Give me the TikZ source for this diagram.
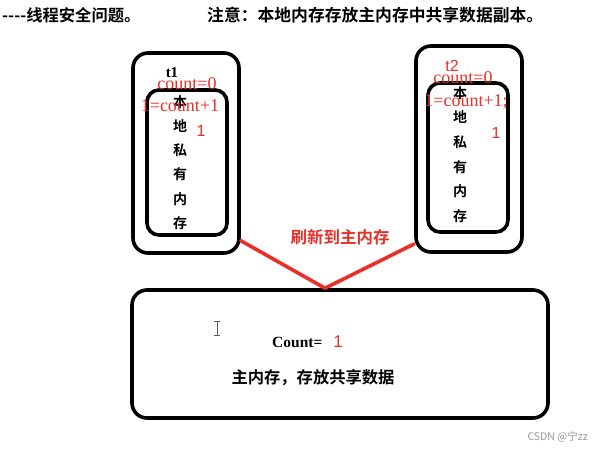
\documentclass[tikz,border=0pt]{standalone}
\usepackage{fontspec}
\usepackage{xcolor}
\usetikzlibrary{calc}
\setmainfont{Liberation Serif}
\setsansfont{Liberation Sans}
\newfontfamily\cjk{Noto Sans CJK SC}[BoldFont={Noto Sans CJK SC Bold}]
\definecolor{memred}{RGB}{232,48,40}
\definecolor{markgray}{RGB}{150,150,150}
\tikzset{
  membox/.style={rectangle, rounded corners=#1, draw=black, line width=3.6pt,
                 inner sep=0pt},
  cjktext/.style={font=\cjk\bfseries\fontsize{#1}{#1}\selectfont, inner sep=0pt},
  redtext/.style={text=memred, font=\fontsize{18}{18}\selectfont, inner sep=0pt},
  redval/.style={text=memred, font=\sffamily\fontsize{#1}{#1}\selectfont, inner sep=0pt},
  flush/.style={memred, line width=3.6pt, line cap=round},
}

\begin{document}
\begin{tikzpicture}[x=1pt, y=-1pt]
        \useasboundingbox (0,0) rectangle (603,451);

        % Title line
        \node[cjktext=16.3, anchor=west] (title) at (2,15) {----线程安全问题。};
        \node[cjktext=16.8, anchor=west] (note) at (207,15) {注意：本地内存存放主内存中共享数据副本。};

        % Thread t1
        \node[membox=15pt, minimum width=106pt, minimum height=200pt] (t1out) at (186,153) {};
        \node[membox=12pt, minimum width=80pt, minimum height=145pt] (t1in) at (187,162.5) {};
        \node[cjktext=14, align=center, font=\cjk\bfseries\fontsize{14}{24.2}\selectfont]
              (t1mem) at (180,162.5) {本\\地\\私\\有\\内\\存};
        \node[inner sep=0pt, font=\bfseries\fontsize{15}{15}\selectfont] (t1name) at (172,73) {t1};
        \node[redtext] (t1read) at (187,84) {count=0};
        \node[redtext] (t1add) at (180,106) {1=count+1};
        \node[redval=16] (t1val) at (201,131) {1};

        % Thread t2
        \node[membox=15pt, minimum width=106pt, minimum height=206pt] (t2out) at (469,149) {};
        \node[membox=12pt, minimum width=80pt, minimum height=149pt] (t2in) at (468,157.5) {};
        \node[cjktext=14, align=center, font=\cjk\bfseries\fontsize{14}{24.6}\selectfont]
              (t2mem) at (460,154.5) {本\\地\\私\\有\\内\\存};
        \node[redval=16] (t2name) at (452,66) {t2};
        \node[redtext] (t2read) at (463,78) {count=0};
        \node[redtext] (t2add) at (466,102) {1=count+1;};
        \node[redval=16] (t2val) at (496,133) {1};

        % Main memory
        \node[membox=15pt, minimum width=416pt, minimum height=128pt] (main) at (340,354) {};
        \node[inner sep=0pt, anchor=west, font=\bfseries\fontsize{15.5}{15.5}\selectfont]
              (count) at (272,342) {Count=};
        \node[redval=17] (countval) at (338,342) {1};
        \node[cjktext=16.3] (mainlbl) at (313,378) {主内存，存放共享数据};

        % Cursor mark
        \draw[markgray!60!black, line width=0.9pt]
              (214,321) -- (220,321) (217,321) -- (217,335) (214,335) -- (220,335);

        % Flush to main memory
        \coordinate (meet) at ($(main.north)+(-15,0)$);
        \draw[flush] (t1out.-58) -- (meet) -- (t2out.240);
        \node[cjktext=16.5, text=memred] (flushlbl) at (340,237) {刷新到主内存};

        % Watermark
        \node[font=\cjk\fontsize{10.5}{10.5}\selectfont, text=markgray, anchor=east, inner sep=0pt]
              (mark) at (588,437) {CSDN @宁zz};
      \end{tikzpicture}
\end{document}
